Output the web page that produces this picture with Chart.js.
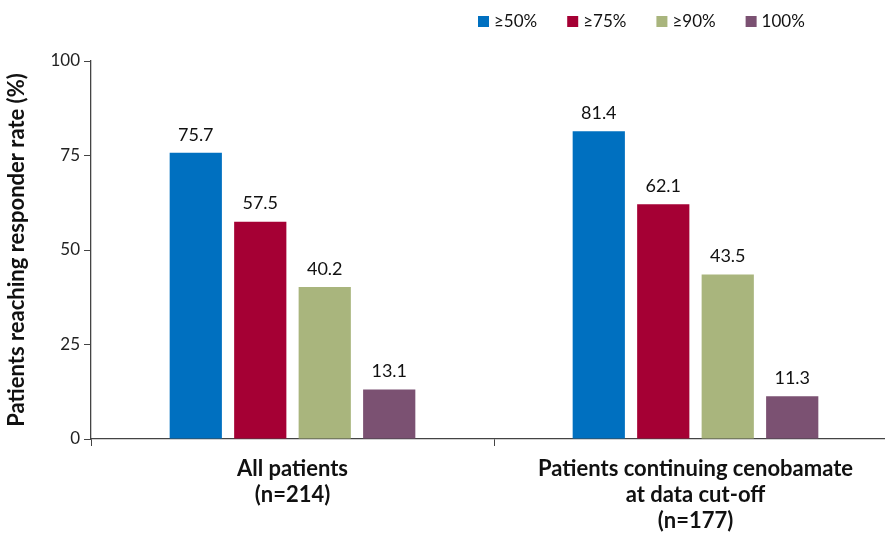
<!DOCTYPE html>
<html>
<head>
<meta charset="utf-8">
<script src="https://cdn.jsdelivr.net/npm/chart.js@4"></script>
<style>
  html, body { margin: 0; padding: 0; background: #fff; overflow: hidden; }
  #wrap { position: relative; width: 900px; height: 537px; }
</style>
</head>
<body>
<div id="wrap"><canvas id="chart"></canvas></div>
<script>
const groups = [
  ['All patients', '(n=214)'],
  ['Patients continuing cenobamate', 'at data cut-off', '(n=177)']
];
const seriesNames = ['≥50%', '≥75%', '≥90%', '100%'];
const seriesColors = ['#0070C0', '#A50034', '#A9B57D', '#7B5172'];
const rate50 = [75.7, 81.4];
const rate75 = [57.5, 62.1];
const rate90 = [40.2, 43.5];
const rate100 = [13.1, 11.3];
const yTicks = [0, 25, 50, 75, 100];

const FONT = 'Lato, "Noto Sans", sans-serif';
const seriesValues = [rate50, rate75, rate90, rate100];

// value printed above each bar
const barValues = {
  id: 'barValues',
  afterDatasetsDraw(chart) {
    const ctx = chart.ctx;
    ctx.save();
    ctx.font = '18px ' + FONT;
    ctx.fillStyle = '#111';
    ctx.textAlign = 'center';
    ctx.textBaseline = 'bottom';
    chart.data.datasets.forEach((ds, i) => {
      chart.getDatasetMeta(i).data.forEach((bar, j) => {
        ctx.fillText(ds.data[j].toFixed(1), bar.x, bar.y - 9);
      });
    });
    ctx.restore();
  }
};

// legend row over the second half of the plot
const topLegend = {
  id: 'topLegend',
  afterDraw(chart) {
    const ctx = chart.ctx;
    ctx.save();
    ctx.font = '17px ' + FONT;
    ctx.textBaseline = 'middle';
    let x = 478;
    const y = 22;
    chart.data.datasets.forEach((ds) => {
      ctx.fillStyle = ds.backgroundColor;
      ctx.fillRect(x, y - 6, 11, 11);
      ctx.fillStyle = '#111';
      ctx.textAlign = 'left';
      ctx.fillText(ds.label, x + 16, y);
      x += 16 + ctx.measureText(ds.label).width + 30;
    });
    ctx.restore();
  }
};

new Chart(document.getElementById('chart'), {
  type: 'bar',
  data: {
    labels: groups,
    datasets: seriesNames.map((name, i) => ({
      label: name,
      data: seriesValues[i],
      backgroundColor: seriesColors[i],
      categoryPercentage: 0.64,
      barPercentage: 0.81
    }))
  },
  options: {
    responsive: true,
    maintainAspectRatio: false,
    animation: false,
    layout: { padding: { top: 61, right: 3, left: 0, bottom: 0 } },
    plugins: {
      legend: { display: false },
      tooltip: { enabled: false }
    },
    scales: {
      x: {
        offset: true,
        grid: {
          offset: true,
          drawOnChartArea: false,
          drawTicks: true,
          tickLength: 7,
          color: '#444'
        },
        border: { color: '#444', width: 1.3 },
        ticks: {
          color: '#111',
          padding: 10,
          font: { family: FONT, size: 22, weight: 'bold', lineHeight: 1.18 },
          maxRotation: 0,
          autoSkip: false
        },
        afterFit(scale) { scale.height = 98; }
      },
      y: {
        min: 0,
        max: 100,
        afterBuildTicks(scale) { scale.ticks = yTicks.map(v => ({ value: v })); },
        grid: {
          drawOnChartArea: false,
          drawTicks: true,
          tickLength: 7,
          color: '#444'
        },
        border: { color: '#444', width: 1.3 },
        ticks: {
          color: '#222',
          padding: 4,
          font: { family: FONT, size: 17 }
        },
        title: {
          display: true,
          text: 'Patients reaching responder rate (%)',
          color: '#111',
          padding: { top: 4, bottom: 2 },
          font: { family: FONT, size: 22, weight: 'bold' }
        },
        afterFit(scale) { scale.width = 91; }
      }
    }
  },
  plugins: [barValues, topLegend]
});
</script>
</body>
</html>
